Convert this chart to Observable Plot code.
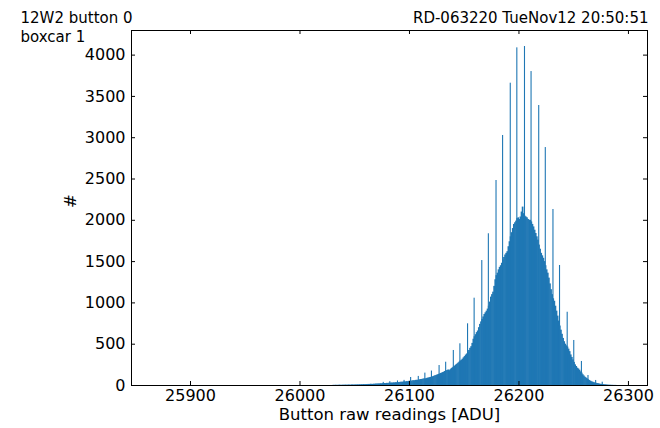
<!DOCTYPE html>
<html><head><meta charset="utf-8">
<script src="https://cdn.jsdelivr.net/npm/d3@7"></script>
<script src="https://cdn.jsdelivr.net/npm/@observablehq/plot@0.6"></script>
<style>body{margin:0;background:#fff}#chart{width:660px;height:428px}</style>
</head><body><div id="chart"></div>
<script>
// ---- data ----
const firstBin = 26030; // ADU of first bin, bins are 1 ADU wide
const bulkCounts = [
  2,1,3,2,2,3,4,2,3,4,
  3,5,4,4,6,5,4,7,6,5,
  7,6,8,7,9,8,10,9,11,10,
  12,11,13,12,15,14,13,16,15,18,
  17,19,18,21,20,22,21,24,23,26,
  25,28,27,30,29,32,31,34,33,36,
  35,38,40,39,42,44,43,47,46,50,
  52,51,55,58,57,61,63,62,66,69,
  72,74,77,80,79,84,88,91,95,98,
  102,106,112,118,122,128,133,138,145,150,
  156,162,170,176,182,188,180,192,205,215,
  225,236,248,258,270,282,295,305,318,335,
  350,368,382,400,424,450,470,510,560,590,
  615,640,660,700,740,770,800,830,860,880,
  900,925,960,1010,1070,1100,1130,1200,1280,1330,
  1360,1400,1430,1450,1480,1520,1550,1580,1600,1620,
  1680,1740,1800,1850,1900,1950,1970,1990,2020,2030,
  2010,2040,2100,2160,2080,2050,2040,2030,2010,2000,
  2000,1980,1950,1920,1880,1840,1800,1760,1700,1650,
  1600,1570,1540,1500,1450,1400,1360,1300,1230,1160,
  1100,1050,1020,960,900,840,780,720,670,620,
  570,530,500,480,465,440,410,370,340,310,
  280,250,230,210,200,185,165,150,130,115,
  100,90,80,70,60,52,45,40,35,30,
  27,24,21,18,15,13,11,10,8,7,
  5,4,3,3,2,2,1,1,1,0
];
const spikeBins = [26076,26082,26089,26095,26101,26108,26114,26120,26127,26133,26140,26146,26153,26159,26166,26172,26179,26185,26192,26198,26205,26211,26218,26224,26231,26237,26244,26250,26257,26263,26270,26276];
const spikeCounts = [38,46,55,62,97,110,150,175,242,282,424,505,747,1057,1513,1837,2482,3027,3660,4088,4104,3801,3390,2881,2131,1453,887,545,291,121,61,40];
const xTicks = [25900, 26000, 26100, 26200, 26300];
const yTicks = [0, 500, 1000, 1500, 2000, 2500, 3000, 3500, 4000];
const titleLeft1 = "12W2 button 0";
const titleLeft2 = "boxcar 1";
const titleRight = "RD-063220 TueNov12 20:50:51";
const xLabel = "Button raw readings [ADU]";
const yLabel = "#";

// ---- tables for the library ----
const bins = bulkCounts.map((c, i) => ({x1: firstBin + i, x2: firstBin + i + 1, count: c}));
const spikes = spikeBins.map((b, i) => ({x1: b, x2: b + 1, count: spikeCounts[i]}));

const W = 660, H = 428, ML = 131, MR = 13, MT = 30, MB = 43;
const FW = W - ML - MR, FH = H - MT - MB, TL = 4;
const blue = "#1f77b4";

const chart = Plot.plot({
  width: W, height: H,
  marginLeft: ML, marginRight: MR, marginTop: MT, marginBottom: MB,
  style: {fontFamily: "DejaVu Sans", fontSize: "16px", color: "#000", background: "#fff"},
  x: {domain: [25846.1, 26317.4], ticks: xTicks, tickFormat: "d", tickSize: 0, tickPadding: 4, label: null},
  y: {domain: [0, 4298], ticks: yTicks, tickFormat: "d", tickSize: 0, tickPadding: 6, label: null},
  marks: [
    Plot.rectY(bins, {x1: "x1", x2: "x2", y: "count", fill: blue, insetLeft: 0, insetRight: -0.6, insetTop: 0, insetBottom: 0}),
    Plot.rectY(spikes, {x1: "x1", x2: "x2", y: "count", fill: blue, inset: 0}),
    Plot.frame({stroke: "#000", strokeWidth: 1}),
    Plot.ruleX(xTicks, {x: d => d, insetTop: FH - TL, stroke: "#000"}),
    Plot.ruleX(xTicks, {x: d => d, insetBottom: FH - TL, stroke: "#000"}),
    Plot.ruleY(yTicks, {y: d => d, insetRight: FW - TL, stroke: "#000"}),
    Plot.ruleY(yTicks, {y: d => d, insetLeft: FW - TL, stroke: "#000"}),
    Plot.text([titleLeft1], {text: d => d, frameAnchor: "top-left", textAnchor: "start", lineAnchor: "middle", dx: -111, dy: -12, fontSize: 15, fill: "#000"}),
    Plot.text([titleLeft2], {text: d => d, frameAnchor: "top-left", textAnchor: "start", lineAnchor: "middle", dx: -111, dy: 7, fontSize: 15, fill: "#000"}),
    Plot.text([titleRight], {text: d => d, frameAnchor: "top-right", textAnchor: "end", lineAnchor: "middle", dx: 1, dy: -12, fontSize: 15, fill: "#000"}),
    Plot.text([xLabel], {text: d => d, frameAnchor: "bottom", lineAnchor: "middle", dy: 29, fontSize: 16.5, fill: "#000"}),
    Plot.text([yLabel], {text: d => d, frameAnchor: "left", lineAnchor: "middle", rotate: -90, dx: -61, fontSize: 16.5, fill: "#000"})
  ]
});
document.getElementById("chart").appendChild(chart);
</script>
</body></html>
